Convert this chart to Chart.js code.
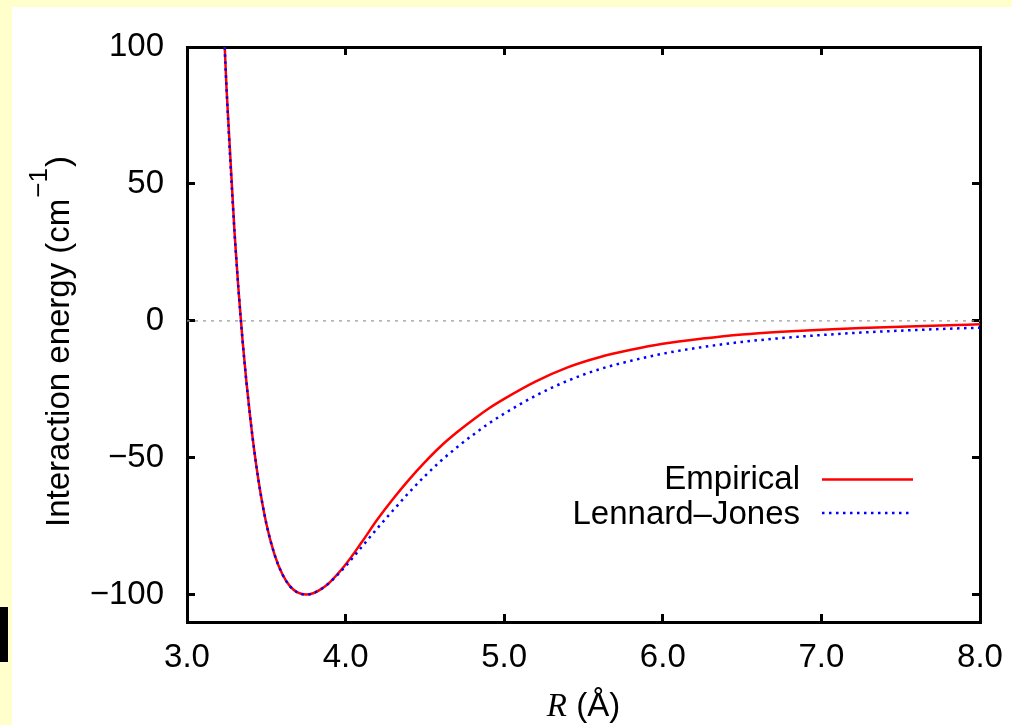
<!DOCTYPE html>
<html>
<head>
<meta charset="utf-8">
<title>Interaction energy vs R</title>
<script src="https://cdn.jsdelivr.net/npm/chart.js@4.4.1/dist/chart.umd.min.js"></script>
<style>
  html, body { margin: 0; padding: 0; }
  body { width: 1012px; height: 725px; background: #ffffcc; position: relative; overflow: hidden; }
  #panel { position: absolute; left: 12px; top: 7px; width: 1000px; height: 718px; background: #ffffff; }
  #marker { position: absolute; left: 0; top: 607px; width: 8px; height: 55px; background: #000000; }
  canvas { display: block; }
</style>
</head>
<body>
<div id="panel"><canvas id="chart" width="1000" height="718"></canvas></div>
<div id="marker"></div>
<script>
const rValues = [3.20, 3.25, 3.30, 3.35, 3.40, 3.45, 3.50, 3.55, 3.60, 3.65, 3.70, 3.75,
                 3.80, 3.85, 3.90, 4.00, 4.10, 4.20, 4.30, 4.40, 4.50, 4.60, 4.70, 4.80,
                 4.90, 5.00, 5.20, 5.40, 5.60, 5.80, 6.00, 6.25, 6.50, 6.75, 7.00, 7.25,
                 7.50, 7.75, 8.00];

// Interaction energy (cm^-1), empirical curve
const empiricalValues = [151, 84, 32, -7, -36, -58, -74, -85, -92.4, -97, -99.3, -100,
                         -99.4, -97.8, -95.5, -89.0, -81.0, -72.6, -65.0, -58.0, -51.6, -45.8, -40.8, -36.3,
                         -32.1, -28.5, -22.1, -17.0, -13.3, -10.6, -8.4, -6.5, -5.0, -4.0, -3.25, -2.65,
                         -2.15, -1.7, -1.3];

// Interaction energy (cm^-1), Lennard-Jones curve
const ljValues = [151, 84, 32, -7, -36, -58, -74, -85, -92.4, -97, -99.3, -100,
                  -99.4, -97.8, -95.6, -89.6, -82.7, -75.8, -69.2, -62.7, -56.7, -51.2, -46.3, -41.8,
                  -37.6, -33.9, -27.3, -21.9, -17.7, -14.6, -12.0, -9.6, -7.7, -6.3, -5.2, -4.3,
                  -3.6, -3.0, -2.5];

// dashed zero reference line
const zeroR = [3.0, 8.0];
const zeroV = [0, 0];

const seriesNames = ["Empirical", "Lennard\u2013Jones"];

const xMin = 3.0, xMax = 8.0;
const yMin = -110, yMax = 100;
const xTicks = [3, 4, 5, 6, 7, 8];
const xTickLabels = ["3.0", "4.0", "5.0", "6.0", "7.0", "8.0"];
const yTicks = [-100, -50, 0, 50, 100];
const yTickLabels = ["\u2212100", "\u221250", "0", "50", "100"];

const xTitleVar = "R";
const xTitleUnit = " (\u00c5)";
const yTitleMain = "Interaction energy (cm";
const yTitleSup = "\u22121";
const yTitleEnd = ")";

const FONT = '"Liberation Sans", Arial, Helvetica, sans-serif';

function toPoints(xs, ys) {
    return xs.map((x, i) => ({ x: x, y: ys[i] }));
}

// Legend sits inside the plot, text on the left of the line sample
const insideLegend = {
    id: "insideLegend",
    afterDraw(chart) {
        const { ctx, chartArea } = chart;
        const rows = chart.data.datasets.filter(d => d.inLegend !== false);
        ctx.save();
        ctx.font = "33px " + FONT;
        ctx.textAlign = "right";
        ctx.textBaseline = "middle";
        rows.forEach((ds, i) => {
            const y = chartArea.top + 432.5 + i * 35;
            ctx.fillStyle = "#000";
            ctx.fillText(ds.label, chartArea.right - 180, y);
            ctx.beginPath();
            ctx.strokeStyle = ds.borderColor;
            ctx.lineWidth = ds.borderWidth;
            ctx.setLineDash(ds.borderDash || []);
            ctx.moveTo(chartArea.right - 158, y - (i ? 1.5 : 0));
            ctx.lineTo(chartArea.right - 67, y - (i ? 1.5 : 0));
            ctx.stroke();
        });
        ctx.restore();
    }
};

// Axis titles with mixed fonts and a superscript
const axisTitles = {
    id: "axisTitles",
    afterDraw(chart) {
        const { ctx, chartArea } = chart;
        ctx.save();
        ctx.fillStyle = "#000";

        // x title: italic serif R, then the unit
        const italFont = 'italic 33px "Liberation Serif", "Times New Roman", serif';
        const mainFont = "33px " + FONT;
        ctx.textBaseline = "middle";
        ctx.textAlign = "left";
        ctx.font = italFont;
        const wR = ctx.measureText(xTitleVar).width;
        ctx.font = mainFont;
        const wU = ctx.measureText(xTitleUnit).width;
        const x = (chartArea.left + chartArea.right) / 2 - (wR + wU) / 2;
        const y = chartArea.bottom + 85;
        ctx.font = italFont;
        ctx.fillText(xTitleVar, x, y);
        ctx.font = mainFont;
        ctx.fillText(xTitleUnit, x + wR, y);

        // y title, rotated, with a raised "-1"
        const supFont = "26px " + FONT;
        const gap = 1;
        ctx.font = mainFont;
        const wMain = ctx.measureText(yTitleMain).width;
        const wEnd = ctx.measureText(yTitleEnd).width;
        ctx.font = supFont;
        const wSup = ctx.measureText(yTitleSup).width;
        const total = wMain + gap + wSup + gap + wEnd;
        ctx.translate(57, (chartArea.top + chartArea.bottom) / 2 + 7);
        ctx.rotate(-Math.PI / 2);
        ctx.textBaseline = "alphabetic";
        const sx = -total / 2;
        ctx.font = mainFont;
        ctx.fillText(yTitleMain, sx, 0);
        ctx.font = supFont;
        ctx.fillText(yTitleSup, sx + wMain + gap, -22);
        ctx.font = mainFont;
        ctx.fillText(yTitleEnd, sx + wMain + gap + wSup + gap, 0);
        ctx.restore();
    }
};

// inward tick marks on all four sides, black frame
function frameGrid() {
    return { drawOnChartArea: false, drawTicks: true, tickLength: -8, tickWidth: 3, tickColor: "#000" };
}
function frameBorder() {
    return { display: true, color: "#000", width: 3 };
}
// fixed axis sizes; drop the label overhang padding Chart.js adds
function fixHeight(h) {
    return s => { s.height = h; s.paddingLeft = 0; s.paddingRight = 0; };
}
function fixWidth(w) {
    return s => { s.width = w; s.paddingTop = 0; s.paddingBottom = 0; };
}

const ctx = document.getElementById("chart").getContext("2d");

new Chart(ctx, {
    type: "line",
    data: {
        datasets: [
            {
                label: seriesNames[0],
                data: toPoints(rValues, empiricalValues),
                borderColor: "#ff0000",
                borderWidth: 2.5,
                pointRadius: 0,
                fill: false,
                cubicInterpolationMode: "monotone",
                order: 1
            },
            {
                label: seriesNames[1],
                data: toPoints(rValues, ljValues),
                borderColor: "#0000ff",
                borderWidth: 2.5,
                borderDash: [2.5, 4.5],
                pointRadius: 0,
                fill: false,
                cubicInterpolationMode: "monotone",
                order: 0
            },
            {
                label: "zero",
                data: toPoints(zeroR, zeroV),
                borderColor: "#999999",
                borderWidth: 1.2,
                borderDash: [3, 5],
                pointRadius: 0,
                fill: false,
                inLegend: false,
                order: 2
            }
        ]
    },
    options: {
        responsive: false,
        animation: false,
        devicePixelRatio: 1,
        events: [],
        layout: { padding: 0, autoPadding: false },
        plugins: {
            legend: { display: false },
            tooltip: { enabled: false }
        },
        scales: {
            x: {
                type: "linear",
                position: "bottom",
                min: xMin,
                max: xMax,
                afterBuildTicks: s => { s.ticks = xTicks.map(v => ({ value: v })); },
                afterFit: fixHeight(103),
                grid: frameGrid(),
                border: frameBorder(),
                ticks: {
                    color: "#000",
                    font: { family: FONT, size: 33 },
                    padding: 24,
                    maxRotation: 0,
                    autoSkip: false,
                    callback: (v, i) => xTickLabels[i]
                }
            },
            x2: {
                type: "linear",
                position: "top",
                min: xMin,
                max: xMax,
                afterBuildTicks: s => { s.ticks = xTicks.map(v => ({ value: v })); },
                afterFit: fixHeight(40),
                grid: frameGrid(),
                border: frameBorder(),
                ticks: { display: false }
            },
            y: {
                type: "linear",
                position: "left",
                min: yMin,
                max: yMax,
                afterBuildTicks: s => { s.ticks = yTicks.map(v => ({ value: v })); },
                afterFit: fixWidth(175),
                grid: frameGrid(),
                border: frameBorder(),
                ticks: {
                    color: "#000",
                    font: { family: FONT, size: 33 },
                    padding: 31,
                    autoSkip: false,
                    callback: (v, i) => yTickLabels[i]
                }
            },
            y2: {
                type: "linear",
                position: "right",
                min: yMin,
                max: yMax,
                afterBuildTicks: s => { s.ticks = yTicks.map(v => ({ value: v })); },
                afterFit: fixWidth(32),
                grid: frameGrid(),
                border: frameBorder(),
                ticks: { display: false }
            }
        }
    },
    plugins: [insideLegend, axisTitles]
});
</script>
</body>
</html>
